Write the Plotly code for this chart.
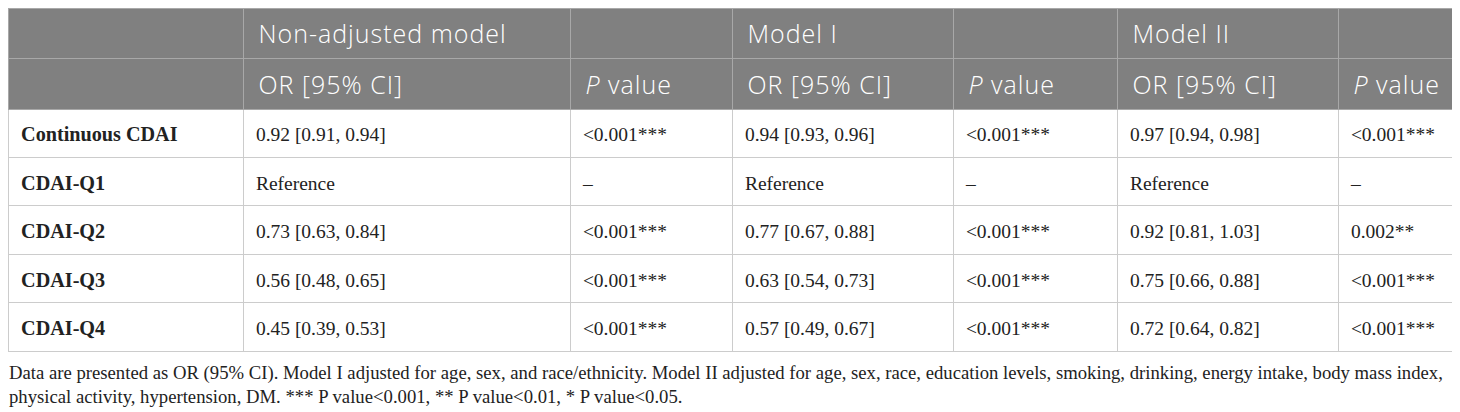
import plotly.graph_objects as go

# Row labels (first column)
rows = ["Continuous CDAI", "CDAI-Q1", "CDAI-Q2", "CDAI-Q3", "CDAI-Q4"]

# Header lines: model names on line one, statistic names on line two
models = ["", "Non-adjusted model", "", "Model I", "", "Model II", ""]
stats = ["", "OR [95% CI]", "<i>P</i> value", "OR [95% CI]", "<i>P</i> value",
         "OR [95% CI]", "<i>P</i> value"]

# Odds ratios with 95% CI and P values for each model
or_crude = ["0.92 [0.91, 0.94]", "Reference", "0.73 [0.63, 0.84]", "0.56 [0.48, 0.65]", "0.45 [0.39, 0.53]"]
p_crude = ["&lt;0.001***", "\u2013", "&lt;0.001***", "&lt;0.001***", "&lt;0.001***"]
or_model1 = ["0.94 [0.93, 0.96]", "Reference", "0.77 [0.67, 0.88]", "0.63 [0.54, 0.73]", "0.57 [0.49, 0.67]"]
p_model1 = ["&lt;0.001***", "\u2013", "&lt;0.001***", "&lt;0.001***", "&lt;0.001***"]
or_model2 = ["0.97 [0.94, 0.98]", "Reference", "0.92 [0.81, 1.03]", "0.75 [0.66, 0.88]", "0.72 [0.64, 0.82]"]
p_model2 = ["&lt;0.001***", "\u2013", "0.002**", "&lt;0.001***", "&lt;0.001***"]

note = ("Data are presented as OR (95% CI). Model I adjusted for age, sex, and race/ethnicity. "
        "Model II adjusted for age, sex, race, education levels, smoking, drinking, energy intake, body mass index,<br>"
        "physical activity, hypertension, DM. *** P value&lt;0.001, ** P value&lt;0.01, * P value&lt;0.05.")

pad = "\u00a0"


# a <br> keeps plotly from word-wrapping the cell text, so styled spans survive
def head(s):
    return '<span style="letter-spacing:1px">' + pad + s + "</span><br>"


# a blank first line in a small base font pushes the text down to mid-cell
def cell(s, size=19.5):
    return pad + '<br><span style="font-size:%spx">' % size + pad + s + "</span>"


header_vals = [[head(m), head(s)] for m, s in zip(models, stats)]
cell_vals = [[cell("<b>" + r + "</b>", 20.2) for r in rows],
             [cell(s) for s in or_crude], [cell(s) for s in p_crude],
             [cell(s) for s in or_model1], [cell(s) for s in p_model1],
             [cell(s) for s in or_model2], [cell(s) for s in p_model2]]

fig = go.Figure(data=[go.Table(
    columnwidth=[235, 327, 162, 221, 164, 221, 116],
    header=dict(
        values=header_vals,
        fill_color="#808080",
        line=dict(color="#a8a8a8", width=1),
        font=dict(family="Open Sans", size=25, color="white", weight=300),
        align="left",
        height=50.5,
    ),
    cells=dict(
        values=cell_vals,
        fill_color="white",
        line=dict(color="#cccccc", width=1),
        font=dict(family="Liberation Serif", size=11, color="#222222"),
        align="left",
        height=48.4,
    ),
    domain=dict(x=[0, 1], y=[0, 1]),
)])

fig.add_annotation(
    text=note, xref="paper", yref="paper", x=0, y=0,
    xanchor="left", yanchor="bottom", align="left", showarrow=False,
    borderpad=0, yshift=8,
    font=dict(family="Liberation Serif", size=18.7, color="#222222"),
)

fig.update_layout(
    width=1460,
    height=412,
    margin=dict(l=0, r=14, t=0, b=4),
    paper_bgcolor="white",
)

fig.write_html("out.html")
